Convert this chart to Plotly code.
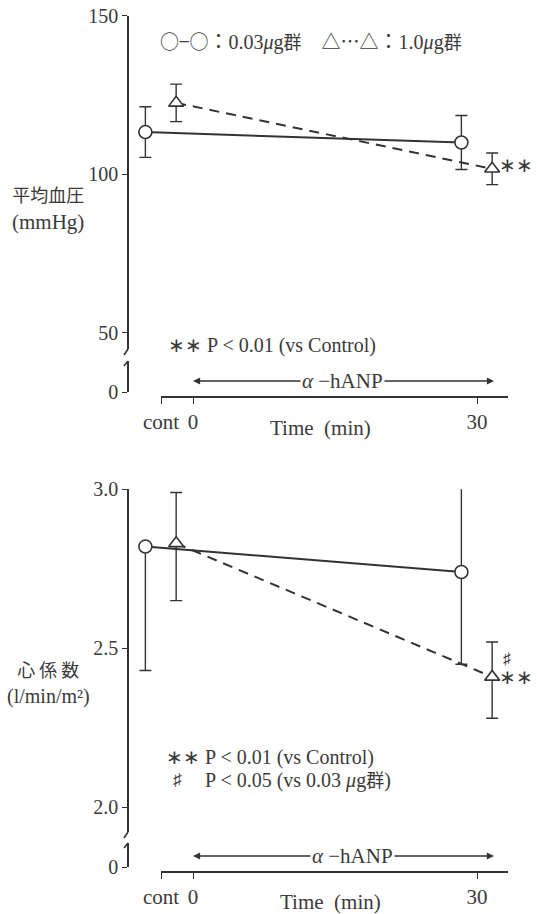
import plotly.graph_objects as go

# ---------------- data ----------------
time_labels = ["cont", "0", "30"]
time_values = [None, 30]          # measurement times; None = control ("cont")

# top panel: mean blood pressure (mmHg)
map_003 = [113.3, 110.0]
map_003_err = [8.0, 8.5]
map_10 = [122.5, 101.7]
map_10_err = [5.9, 5.0]

# bottom panel: cardiac index (l/min/m2)
ci_003 = [2.82, 2.74]
ci_003_err_up = [0.0, 0.30]
ci_003_err_dn = [0.39, 0.29]
ci_10 = [2.83, 2.41]
ci_10_err_up = [0.16, 0.11]
ci_10_err_dn = [0.18, 0.13]

top_ticks = [50, 100, 150]
bot_ticks = [2.0, 2.5, 3.0]
bot_ticktext = ["2.0", "2.5", "3.0"]

# ---------------- layout helpers ----------------
W, H = 537, 914
def fx(p): return p / W
def fy(p): return 1 - p / H

X0_PX = 193.0                 # pixel of t = 0
PX_PER_MIN = (477.0 - 193.0) / 30.0
def px_to_min(p): return (p - X0_PX) / PX_PER_MIN

CONT_POS = px_to_min(161)     # position of the "cont" tick
OFF_CIRCLE = -1.65
OFF_TRI = 1.6

def xs(offset):
    return [(CONT_POS if t is None else t) + offset for t in time_values]

FONT = "Liberation Serif, Noto Sans CJK JP, serif"
CJK = "Noto Sans CJK JP"
INK = "#333333"
TXT = "#3a3a3a"

fig = go.Figure()

def add_series(x, y, xaxis, yaxis, symbol, dash, eu, ed, name):
    fig.add_trace(go.Scatter(
        x=x, y=y, xaxis=xaxis, yaxis=yaxis, name=name, mode="lines+markers",
        line=dict(color=INK, width=2, dash=dash),
        marker=dict(symbol=symbol, size=13, color="white",
                    line=dict(color=INK, width=1.6)),
        error_y=dict(type="data", symmetric=False, array=eu, arrayminus=ed,
                     color=INK, thickness=1.4, width=6),
        cliponaxis=False, showlegend=False))

# top panel
add_series(xs(OFF_CIRCLE), map_003, "x", "y", "circle", "solid",
           map_003_err, map_003_err, "0.03μg群")
add_series(xs(OFF_TRI), map_10, "x", "y", "triangle-up", "10px,7px",
           map_10_err, map_10_err, "1.0μg群")
# bottom panel
add_series(xs(OFF_CIRCLE), ci_003, "x3", "y3", "circle", "solid",
           ci_003_err_up, ci_003_err_dn, "0.03μg群")
add_series(xs(OFF_TRI), ci_10, "x3", "y3", "triangle-up", "10px,7px",
           ci_10_err_up, ci_10_err_dn, "1.0μg群")

# dummy traces so the visible time axes are drawn
fig.add_trace(go.Scatter(x=[None], y=[None], xaxis="x2", yaxis="y2",
                         showlegend=False, hoverinfo="skip"))
fig.add_trace(go.Scatter(x=[None], y=[None], xaxis="x4", yaxis="y4",
                         showlegend=False, hoverinfo="skip"))

full_range = [px_to_min(0), px_to_min(W)]
vis_range = [px_to_min(161), px_to_min(508)]

yax_common = dict(showline=True, linecolor=INK, linewidth=1.6, ticks="outside",
                  ticklen=5, tickwidth=1.4, tickcolor=INK, showgrid=False,
                  zeroline=False, anchor="free", position=fx(128),
                  ticklabeloverflow="allow",
                  tickfont=dict(family=FONT, size=20, color=TXT), automargin=False)
xvis_common = dict(showline=True, linecolor=INK, linewidth=1.6, ticks="outside",
                   ticklen=6, tickwidth=1.4, tickcolor=INK, showgrid=False,
                   zeroline=False, anchor="free", domain=[fx(161), fx(508)],
                   range=vis_range, tickvals=[CONT_POS, 0, 30],
                   ticktext=time_labels, ticklabeloverflow="allow",
                   tickfont=dict(family=FONT, size=21, color=TXT), automargin=False)
xdata_common = dict(visible=False, domain=[0, 1], range=full_range, showgrid=False,
                    zeroline=False)

top_main_top, top_main_bot = 15.7, 349
top_scale = (332.7 - 15.7) / 100.0
bot_main_top, bot_main_bot = 489.3, 832
bot_scale = (807.3 - 489.3) / 1.0

fig.update_layout(
    width=W, height=H, margin=dict(l=0, r=0, t=0, b=0),
    paper_bgcolor="white", plot_bgcolor="white",
    xaxis=dict(**xdata_common, anchor="y"),
    xaxis3=dict(**xdata_common, anchor="y3"),
    xaxis2=dict(**xvis_common, position=fy(397)),
    xaxis4=dict(**xvis_common, position=fy(872)),
    yaxis=dict(**yax_common, domain=[fy(top_main_bot), fy(top_main_top)],
               range=[150 - (top_main_bot - top_main_top) / top_scale, 150],
               tickvals=top_ticks),
    yaxis2=dict(**yax_common, domain=[fy(392), fy(361)], range=[0, 10], tickvals=[0]),
    yaxis3=dict(**yax_common, domain=[fy(bot_main_bot), fy(bot_main_top)],
                range=[3.0 - (bot_main_bot - bot_main_top) / bot_scale, 3.0],
                tickvals=bot_ticks, ticktext=bot_ticktext),
    yaxis4=dict(**yax_common, domain=[fy(867.3), fy(843)], range=[0, 10], tickvals=[0]),
)

# axis-break marks
def brk(x0, y0, x1, y1):
    fig.add_shape(type="line", xref="paper", yref="paper",
                  x0=fx(x0), y0=fy(y0), x1=fx(x1), y1=fy(y1),
                  line=dict(color=INK, width=1.6))
brk(128, 349, 124, 355)
brk(124, 366, 128, 361)
brk(128, 832, 124, 838)
brk(124, 848, 128, 843)

def text(x, y, s, size=20, xanchor="center", **kw):
    fig.add_annotation(x=fx(x), y=fy(y), xref="paper", yref="paper", text=s,
                       showarrow=False, xanchor=xanchor, yanchor="middle",
                       font=dict(family=FONT, size=size, color=TXT), **kw)

def cjk(s, size=None):
    sz = f"font-size:{size}px;" if size else ""
    return f"<span style=\"font-family:'{CJK}';{sz}\">{s}</span>"

# axis titles
text(48, 207, cjk("平均血圧", 18) + "<br>(mmHg)", size=21)
text(48, 682, cjk("心 係 数", 18) + "<br>(l/min/m²)", size=20)
text(320, 428, "Time  (min)", size=21)
text(330, 902, "Time  (min)", size=21)

# legend-like caption
text(158, 40, cjk("○−○", 19) + "：0.03<i>μ</i>g" + cjk("群", 18) + "　"
     + cjk("△…△", 19) + "：1.0<i>μ</i>g" + cjk("群", 18), size=20, xanchor="left")

# significance notes
text(166, 345, "∗∗ P < 0.01 (vs Control)", size=20, xanchor="left")
text(164, 757, "∗∗", size=20, xanchor="left")
text(203, 757, "P < 0.01 (vs Control)", size=20, xanchor="left")
text(171, 779, "♯", size=17, xanchor="left")
text(203, 779, "P < 0.05 (vs 0.03 <i>μ</i>g" + cjk("群", 18) + ")", size=20, xanchor="left")

# markers next to data points
def mark(xaxis, yaxis, x, y, s, xshift, yshift, size=20):
    fig.add_annotation(x=x, y=y, xref=xaxis, yref=yaxis, text=s, showarrow=False,
                       xanchor="left", yanchor="middle", xshift=xshift, yshift=yshift,
                       font=dict(family=FONT, size=size, color=TXT))
mark("x", "y", xs(OFF_TRI)[1], map_10[1], "∗∗", 5, 4)
mark("x3", "y3", xs(OFF_TRI)[1], ci_10[1], "∗∗", 5, 0)
mark("x3", "y3", xs(OFF_TRI)[1], ci_10[1], "♯", 9, 18, size=16)

# infusion arrows  (α-hANP from 0 to ~32 min)
ARROW_END = px_to_min(494)
def infusion(y_px, xref, center_px):
    for head in (0, ARROW_END):
        head_px = X0_PX + head * PX_PER_MIN
        fig.add_annotation(x=head, y=fy(y_px), xref=xref, yref="paper", text="",
                           showarrow=True, arrowhead=2, arrowsize=1.1, arrowwidth=1.3,
                           arrowcolor=INK, ax=center_px - head_px, ay=0, axref="pixel")
    text(center_px, y_px, "<i>α</i> −hANP", size=21, bgcolor="white")
infusion(381, "x", 342)
infusion(856, "x3", 352)

fig.write_html("out.html", config={"displayModeBar": False},
               post_script="document.body.style.margin='0px';"
                           "document.body.style.overflow='hidden';")
